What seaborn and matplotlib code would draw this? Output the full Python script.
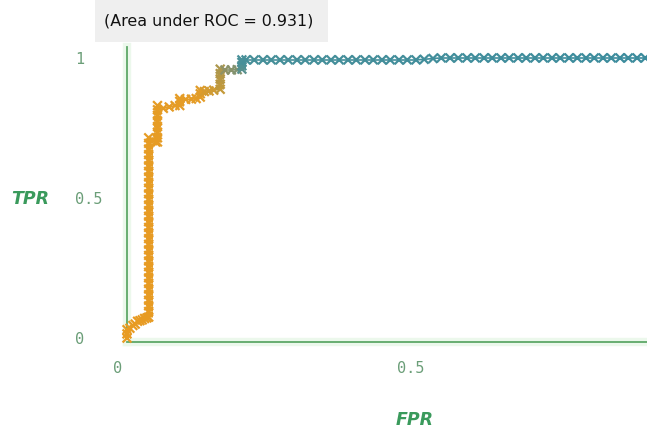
import numpy as np
import pandas as pd
import seaborn as sns
import matplotlib.pyplot as plt
from matplotlib.colors import LinearSegmentedColormap
from matplotlib.collections import LineCollection
from matplotlib.patches import Rectangle
from matplotlib.transforms import ScaledTranslation
import matplotlib.patheffects as pe

# ROC points (fpr, tpr, threshold), section by section
fpr_start = [0.000, 0.000, 0.000, 0.005, 0.010, 0.014, 0.018, 0.022, 0.026, 0.030, 0.034]
tpr_start = [0.000, 0.015, 0.030, 0.035, 0.045, 0.050, 0.060, 0.062, 0.065, 0.070, 0.072]
thr_start = [1.00, 0.99, 0.99, 0.98, 0.98, 0.97, 0.97, 0.96, 0.96, 0.95, 0.95]

# first tall step
fpr_step1 = [0.037] * 33
tpr_step1 = [0.075, 0.095, 0.115, 0.135, 0.155, 0.175, 0.195, 0.215, 0.235, 0.255, 0.275,
             0.295, 0.315, 0.335, 0.355, 0.375, 0.395, 0.415, 0.435, 0.455, 0.475, 0.495,
             0.515, 0.535, 0.555, 0.575, 0.595, 0.615, 0.635, 0.655, 0.675, 0.695, 0.715]
thr_step1 = [0.95, 0.95, 0.94, 0.94, 0.94, 0.93, 0.93, 0.93, 0.92, 0.92, 0.92,
             0.91, 0.91, 0.91, 0.90, 0.90, 0.90, 0.89, 0.89, 0.89, 0.88, 0.88,
             0.88, 0.87, 0.87, 0.87, 0.86, 0.86, 0.86, 0.85, 0.85, 0.85, 0.84]

# shoulder of the curve
fpr_mid = [0.044, 0.049, 0.052, 0.052, 0.052, 0.052, 0.052, 0.052, 0.052, 0.052,
           0.062, 0.072, 0.082, 0.090, 0.090, 0.090, 0.100, 0.110, 0.118,
           0.125, 0.125, 0.125, 0.132, 0.140, 0.148,
           0.159, 0.159, 0.159, 0.159, 0.159, 0.167, 0.178, 0.188,
           0.196, 0.196, 0.196, 0.196]
tpr_mid = [0.705, 0.700, 0.700, 0.715, 0.735, 0.755, 0.775, 0.795, 0.815, 0.830,
           0.820, 0.825, 0.830, 0.830, 0.845, 0.855, 0.852, 0.853, 0.855,
           0.860, 0.872, 0.884, 0.880, 0.882, 0.885,
           0.888, 0.906, 0.925, 0.944, 0.960, 0.957, 0.957, 0.958,
           0.960, 0.972, 0.984, 0.993]
thr_mid = [0.84, 0.83, 0.83, 0.83, 0.82, 0.82, 0.82, 0.81, 0.81, 0.81,
           0.80, 0.80, 0.80, 0.80, 0.79, 0.79, 0.79, 0.78, 0.78,
           0.77, 0.76, 0.75, 0.70, 0.68, 0.66,
           0.60, 0.58, 0.56, 0.54, 0.52, 0.42, 0.40, 0.38,
           0.26, 0.24, 0.22, 0.20]

# long flat top
fpr_top = [0.203, 0.217, 0.232, 0.246, 0.261, 0.275, 0.290, 0.304, 0.319, 0.333,
           0.348, 0.362, 0.377, 0.391, 0.406, 0.420, 0.435, 0.449, 0.464, 0.478,
           0.493, 0.507, 0.522, 0.536, 0.551, 0.565, 0.580, 0.594, 0.609, 0.623,
           0.638, 0.652, 0.667, 0.681, 0.696, 0.710, 0.725, 0.739, 0.754, 0.768,
           0.783, 0.797, 0.812, 0.826, 0.841, 0.855, 0.870, 0.884, 0.899, 0.913,
           0.928, 0.942, 0.957, 0.971, 0.986, 1.000]
tpr_top = [0.993, 0.993, 0.993, 0.993, 0.993, 0.993, 0.993, 0.993, 0.993, 0.993,
           0.993, 0.993, 0.993, 0.993, 0.993, 0.993, 0.993, 0.993, 0.993, 0.993,
           0.993, 0.995, 0.998, 1.000, 1.000, 1.000, 1.000, 1.000, 1.000, 1.000,
           1.000, 1.000, 1.000, 1.000, 1.000, 1.000, 1.000, 1.000, 1.000, 1.000,
           1.000, 1.000, 1.000, 1.000, 1.000, 1.000, 1.000, 1.000, 1.000, 1.000,
           1.000, 1.000, 1.000, 1.000, 1.000, 1.000]
thr_top = [0.18, 0.18, 0.17, 0.17, 0.17, 0.16, 0.16, 0.16, 0.15, 0.15,
           0.15, 0.14, 0.14, 0.14, 0.13, 0.13, 0.13, 0.12, 0.12, 0.12,
           0.11, 0.11, 0.11, 0.10, 0.10, 0.10, 0.09, 0.09, 0.09, 0.08,
           0.08, 0.08, 0.07, 0.07, 0.07, 0.06, 0.06, 0.06, 0.05, 0.05,
           0.05, 0.04, 0.04, 0.04, 0.03, 0.03, 0.03, 0.02, 0.02, 0.02,
           0.01, 0.01, 0.01, 0.00, 0.00, 0.00]

auc_text = "(Area under ROC = 0.931)"
x_ticks = [0, 0.5, 1]
y_ticks = [0, 0.5, 1]

df = pd.DataFrame({
    "fpr": fpr_start + fpr_step1 + fpr_mid + fpr_top,
    "tpr": tpr_start + tpr_step1 + tpr_mid + tpr_top,
    "thr": thr_start + thr_step1 + thr_mid + thr_top,
})

green = "#5ea868"
tick_green = "#6b9e78"
label_green = "#3a9a5c"
cmap = LinearSegmentedColormap.from_list(
    "weka", [(0, "#3b8c9e"), (0.22, "#4a9098"), (0.42, "#8f9266"),
             (0.6, "#c49a3a"), (0.78, "#e59c26"), (1, "#e89b22")])

sns.set_style("white")
plt.rcParams["font.family"] = ["DejaVu Sans"]

fig = plt.figure(figsize=(6.47, 4.41), dpi=100)
ax = fig.add_axes([127 / 647, 99 / 441, 1 - 127 / 647, 295 / 441])

# connecting line, coloured by threshold like the markers;
# the vertical runs (many points at one fpr) come out as a solid bar
pts = df[["fpr", "tpr"]].to_numpy()
segs = np.stack([pts[:-1], pts[1:]], axis=1)
widths = np.where(np.diff(df["fpr"].to_numpy()) == 0, 5.0, 1.2)
lc = LineCollection(segs, colors=cmap(df["thr"].to_numpy()[1:]), linewidths=widths,
                    clip_on=False)
ax.add_collection(lc)

sns.scatterplot(data=df, x="fpr", y="tpr", hue="thr", palette=cmap, hue_norm=(0, 1),
                marker="x", s=40, linewidth=1.6, legend=False, ax=ax, clip_on=False,
                zorder=3)

ax.set_xticks(x_ticks)
ax.set_yticks(y_ticks)
ax.set_xticklabels(["0", "0.5", "1"])
ax.set_yticklabels(["0", "0.5", "1"])
# limits after the ticks, otherwise set_xticks widens the view
ax.set_xlim(0, 0.887)
ax.set_ylim(-0.014, 1.039)
ax.tick_params(axis="both", colors=green, length=4.5, width=1, direction="out",
               labelcolor=tick_green, labelsize=11, pad=9)
ax.tick_params(axis="y", pad=33)
for lab in ax.get_xticklabels() + ax.get_yticklabels():
    lab.set_fontfamily("DejaVu Sans Mono")
for lab in ax.get_xticklabels():
    lab.set_transform(lab.get_transform() + ScaledTranslation(-0.09, 0, fig.dpi_scale_trans))
for lab in ax.get_yticklabels():
    lab.set_horizontalalignment("left")

for side in ["top", "right"]:
    ax.spines[side].set_visible(False)
for side in ["left", "bottom"]:
    ax.spines[side].set_color(green)
    ax.spines[side].set_linewidth(1.3)
    ax.spines[side].set_path_effects([pe.withStroke(linewidth=6, foreground="#ecf8ec")])

ax.set_xlabel("")
ax.set_ylabel("")
fig.text(415 / 647, 1 - 420 / 441, "FPR", color=label_green, fontsize=12.5,
         fontweight="bold", fontstyle="italic", ha="center", va="center")
fig.text(30 / 647, 1 - 199 / 441, "TPR", color=label_green, fontsize=12.5,
         fontweight="bold", fontstyle="italic", ha="center", va="center")

# grey caption panel with the AUC
fig.patches.append(Rectangle((95 / 647, 1 - 42 / 441), 233 / 647, 42 / 441,
                             transform=fig.transFigure, facecolor="#efefef",
                             edgecolor="none", zorder=0))
fig.text(104 / 647, 1 - 21 / 441, auc_text, color="#111111", fontsize=11.4,
         ha="left", va="center")

fig.savefig("out.png", dpi=100)
